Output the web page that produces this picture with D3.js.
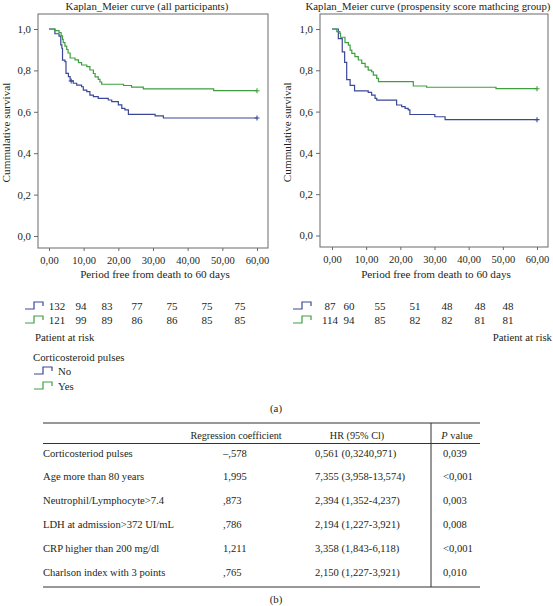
<!DOCTYPE html>
<html>
<head>
<meta charset="utf-8">
<script src="https://cdn.jsdelivr.net/npm/d3@7"></script>
<style>
  html, body { margin: 0; padding: 0; background: #fff; }
  svg { display: block; }
  text { font-family: "Liberation Serif", "DejaVu Serif", serif; fill: #231f20; }
</style>
</head>
<body>
<svg id="chart" width="553" height="606"></svg>
<script>
// ---------------- DATA ----------------
const timeTicks = [0, 10, 20, 30, 40, 50, 60];
const survTicks = [0, 0.2, 0.4, 0.6, 0.8, 1.0];
const titles = ["Kaplan_Meier curve (all participants)", "Kaplan_Meier curve (prospensity score mathcing group)"];
const groups = ["No", "Yes"];

// all participants – No corticosteroid pulses
const allNoTimes = [0, 1.7, 2.9, 3.4, 3.7, 3.9, 4.6, 4.9, 5.6, 6.1, 7.0, 8.0, 9.4, 9.9, 10.9, 11.8, 12.8, 14.2, 17.1, 18.1, 20.0, 21.0, 21.9, 22.9, 30.6, 33.0];
const allNoSurv  = [1.0, 0.977, 0.966, 0.923, 0.907, 0.850, 0.842, 0.786, 0.770, 0.749, 0.738, 0.729, 0.721, 0.705, 0.697, 0.681, 0.673, 0.665, 0.657, 0.649, 0.633, 0.617, 0.609, 0.588, 0.580, 0.570];
const allNoCensor = [6.4, 60];
// all participants – Yes
const allYesTimes = [0, 1.7, 2.9, 3.5, 3.9, 4.1, 4.6, 5.1, 5.5, 6.1, 7.5, 8.5, 9.4, 10.9, 11.8, 12.8, 13.3, 14.2, 14.7, 15.2, 21.5, 23.8, 27.2, 47.5];
const allYesSurv  = [1.0, 0.992, 0.983, 0.967, 0.950, 0.934, 0.917, 0.901, 0.884, 0.860, 0.851, 0.838, 0.826, 0.818, 0.802, 0.785, 0.769, 0.757, 0.744, 0.733, 0.727, 0.719, 0.711, 0.702];
const allYesCensor = [60];
// propensity score matching – No
const psmNoTimes = [0, 1.85, 3.0, 3.7, 4.3, 5.3, 6.6, 10.6, 11.6, 12.6, 13.1, 18.9, 20.4, 21.4, 22.3, 22.8, 30.1, 33.1];
const psmNoSurv  = [1.0, 0.953, 0.889, 0.838, 0.755, 0.727, 0.700, 0.693, 0.680, 0.664, 0.656, 0.632, 0.624, 0.616, 0.608, 0.586, 0.575, 0.561];
const psmNoCensor = [60];
// propensity score matching – Yes
const psmYesTimes = [0, 1.4, 2.3, 2.5, 3.8, 4.8, 5.3, 5.8, 6.7, 7.7, 8.7, 9.7, 10.6, 11.6, 12.1, 13.1, 13.6, 23.8, 27.7, 48.0];
const psmYesSurv  = [1.0, 0.987, 0.979, 0.960, 0.934, 0.922, 0.898, 0.882, 0.866, 0.850, 0.834, 0.817, 0.801, 0.793, 0.777, 0.761, 0.745, 0.724, 0.718, 0.711];
const psmYesCensor = [60];

// patients at risk
const riskAllNo  = [132, 94, 83, 77, 75, 75, 75];
const riskAllYes = [121, 99, 89, 86, 86, 85, 85];
const riskPsmNo  = [87, 60, 55, 51, 48, 48, 48];
const riskPsmYes = [114, 94, 85, 82, 82, 81, 81];

// Cox regression table
const tableHeader = ["Regression coefficient", "HR (95% Cl)", "value"];
const rowLabels = ["Corticosteriod pulses", "Age more than 80 years", "Neutrophil/Lymphocyte>7.4", "LDH at admission>372 UI/mL", "CRP higher than 200 mg/dl", "Charlson index with 3 points"];
const coefs = ["\u2013,578", "1,995", ",873", ",786", "1,211", ",765"];
const hrs = ["0,561 (0,3240,971)", "7,355 (3,958-13,574)", "2,394 (1,352-4,237)", "2,194 (1,227-3,921)", "3,358 (1,843-6,118)", "2,150 (1,227-3,921)"];
const pvals = ["0,039", "<0,001", "0,003", "0,008", "<0,001", "0,010"];

// ---------------- LAYOUT ----------------
const BLUE = "#3a4897";
const GREEN = "#3f9f3f";
const FRAME = "#6b6b6b";
const svg = d3.select("#chart");

const panels = [
  { title: titles[0], frame: [38, 14, 268, 248], xr: [49, 257], yr: [236, 29],
    series: [
      { t: allNoTimes, s: allNoSurv, c: allNoCensor, color: BLUE },
      { t: allYesTimes, s: allYesSurv, c: allYesCensor, color: GREEN }],
    risk: [riskAllNo, riskAllYes], riskX: [57, 81, 107, 137, 172, 207, 240], iconX: 25,
    ylabX: 10 },
  { title: titles[1], frame: [320, 14, 548, 247], xr: [332, 537], yr: [235.5, 29],
    series: [
      { t: psmNoTimes, s: psmNoSurv, c: psmNoCensor, color: BLUE },
      { t: psmYesTimes, s: psmYesSurv, c: psmYesCensor, color: GREEN }],
    risk: [riskPsmNo, riskPsmYes], riskX: [330, 349, 380, 415, 447, 480, 508], iconX: 293,
    ylabX: 291 }
];

function stepIcon(g, x, y, color) {
  g.append("path")
    .attr("d", `M${x},${y + 3} H${x + 9} V${y - 4} H${x + 18} V${y}`)
    .attr("fill", "none").attr("stroke", color).attr("stroke-width", 1.2);
}

panels.forEach(p => {
  const g = svg.append("g");
  const x = d3.scaleLinear().domain([0, 60]).range(p.xr);
  const y = d3.scaleLinear().domain([0, 1]).range(p.yr);
  const [fx0, fy0, fx1, fy1] = p.frame;

  // frame
  g.append("rect").attr("x", fx0).attr("y", fy0).attr("width", fx1 - fx0).attr("height", fy1 - fy0)
    .attr("fill", "none").attr("stroke", FRAME).attr("stroke-width", 1);

  // title
  g.append("text").attr("x", (fx0 + fx1) / 2 - 6).attr("y", 9.5).attr("text-anchor", "middle")
    .attr("font-size", 10.8).text(p.title);

  // y axis
  const ya = d3.axisLeft(y).tickValues(survTicks).tickSize(4).tickPadding(3)
    .tickFormat(d => d3.format(".1f")(d).replace(".", ","));
  const yg = g.append("g").attr("transform", `translate(${fx0},0)`).call(ya);
  yg.select(".domain").remove();
  yg.selectAll("line").attr("stroke", FRAME);
  yg.selectAll("text").attr("font-size", 10.8).attr("font-family", "Liberation Serif").attr("fill", "#231f20");

  // x axis
  const xa = d3.axisBottom(x).tickValues(timeTicks).tickSize(3).tickPadding(6)
    .tickFormat(d => d3.format(".2f")(d).replace(".", ","));
  const xg = g.append("g").attr("transform", `translate(0,${fy1})`).call(xa);
  xg.select(".domain").remove();
  xg.selectAll("line").attr("stroke", FRAME);
  xg.selectAll("text").attr("font-size", 10.5).attr("font-family", "Liberation Serif").attr("fill", "#231f20");

  // axis titles
  g.append("text").attr("x", (fx0 + fx1) / 2 + 2).attr("y", 278).attr("text-anchor", "middle")
    .attr("font-size", 11.2).text("Period free from death to 60 days");
  g.append("text").attr("transform", `translate(${p.ylabX},${(y(0) + y(1)) / 2}) rotate(-90)`)
    .attr("text-anchor", "middle").attr("font-size", 11.2).text("Cummulative survival");

  // curves
  p.series.forEach(sr => {
    const pts = sr.t.map((t, i) => [t, sr.s[i]]);
    pts.push([60, sr.s[sr.s.length - 1]]);
    const line = d3.line().x(d => x(d[0])).y(d => y(d[1])).curve(d3.curveStepAfter);
    g.append("path").attr("d", line(pts)).attr("fill", "none")
      .attr("stroke", sr.color).attr("stroke-width", 1.2);
    // censor marks
    sr.c.forEach(ct => {
      let idx = d3.bisectRight(sr.t, ct) - 1;
      const sv = sr.s[Math.max(0, idx)];
      const cx = x(ct), cy = y(sv);
      g.append("path").attr("d", `M${cx - 2.5},${cy} H${cx + 2.5} M${cx},${cy - 2.5} V${cy + 2.5}`)
        .attr("stroke", sr.color).attr("stroke-width", 1.1);
    });
  });

  // risk table
  const rowY = [310, 324];
  p.risk.forEach((row, ri) => {
    const col = ri === 0 ? BLUE : GREEN;
    stepIcon(g, p.iconX, rowY[ri] - 4, col);
    row.forEach((v, i) => {
      g.append("text").attr("x", p.riskX[i]).attr("y", rowY[ri]).attr("text-anchor", "middle")
        .attr("font-size", 11).text(v);
    });
  });
});

// patient at risk labels
svg.append("text").attr("x", 35).attr("y", 341).attr("font-size", 10.8).text("Patient at risk");
svg.append("text").attr("x", 552).attr("y", 341).attr("text-anchor", "end").attr("font-size", 10.8).text("Patient at risk");

// legend
svg.append("text").attr("x", 33).attr("y", 360.5).attr("font-size", 10.8).text("Corticosteroid pulses");
[BLUE, GREEN].forEach((c, i) => {
  const ly = 375 + i * 15;
  stepIcon(svg, 34, ly - 4, c);
  svg.append("text").attr("x", 58).attr("y", ly).attr("font-size", 10.8).text(groups[i]);
});
svg.append("text").attr("x", 276).attr("y", 411.5).attr("text-anchor", "middle").attr("font-size", 10.8).text("(a)");

// ---------------- TABLE ----------------
const tL = 43, tR = 480, tTop = 423, tHead = 443.5, tBot = 587, tV = 431;
svg.append("line").attr("x1", tL).attr("x2", tR).attr("y1", tTop).attr("y2", tTop).attr("stroke", "#333").attr("stroke-width", 1.2);
svg.append("line").attr("x1", tL).attr("x2", tR).attr("y1", tHead).attr("y2", tHead).attr("stroke", "#333").attr("stroke-width", 1);
svg.append("line").attr("x1", tL).attr("x2", tR).attr("y1", tBot).attr("y2", tBot).attr("stroke", "#333").attr("stroke-width", 1.2);
svg.append("line").attr("x1", tV).attr("x2", tV).attr("y1", tTop).attr("y2", tBot).attr("stroke", "#333").attr("stroke-width", 1);

const fs = 10.6;
svg.append("text").attr("x", 236).attr("y", 438.5).attr("text-anchor", "middle").attr("font-size", 10.2).text(tableHeader[0]);
svg.append("text").attr("x", 357).attr("y", 438.5).attr("text-anchor", "middle").attr("font-size", 10.2).text(tableHeader[1]);
const pv = svg.append("text").attr("x", 457).attr("y", 438.5).attr("text-anchor", "middle").attr("font-size", 10.4);
pv.append("tspan").attr("font-style", "italic").text("P");
pv.append("tspan").text(" " + tableHeader[2]);

const rowScale = d3.scalePoint().domain(rowLabels).range([456.5, 575.5]);
rowLabels.forEach((lab, i) => {
  const ry = rowScale(lab);
  svg.append("text").attr("x", tL).attr("y", ry).attr("font-size", fs).text(lab);
  svg.append("text").attr("x", 223).attr("y", ry).attr("font-size", fs).text(coefs[i]);
  svg.append("text").attr("x", 315).attr("y", ry).attr("font-size", fs).text(hrs[i]);
  svg.append("text").attr("x", 443).attr("y", ry).attr("font-size", fs).text(pvals[i]);
});
svg.append("text").attr("x", 276).attr("y", 603).attr("text-anchor", "middle").attr("font-size", 10.8).text("(b)");
</script>
</body>
</html>
